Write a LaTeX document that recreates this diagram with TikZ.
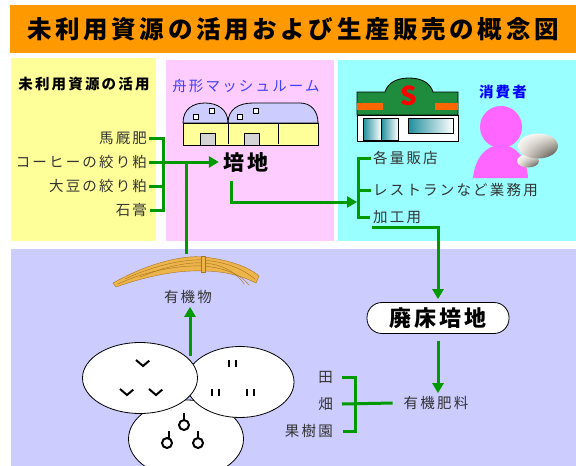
\documentclass[tikz,border=0pt]{standalone}
\usepackage{fontspec}
\setmainfont{Noto Sans CJK JP}[LetterSpace=15]
\usetikzlibrary{arrows.meta,positioning,shapes.geometric,shadings}

\definecolor{titleorange}{HTML}{FF9900}
\definecolor{panelyellow}{HTML}{FFFF99}
\definecolor{panelpink}{HTML}{FFCCFF}
\definecolor{panelcyan}{HTML}{99FFFF}
\definecolor{panelblue}{HTML}{CCCCFF}
\definecolor{flowgreen}{HTML}{009900}
\definecolor{textgray}{HTML}{333333}
\definecolor{labelblue}{HTML}{4040FF}
\definecolor{wallyellow}{HTML}{FFFF99}
\definecolor{doorgray}{HTML}{D4D4D4}
\definecolor{storegreen}{HTML}{1E8C3C}
\definecolor{storeorange}{HTML}{FF6600}
\definecolor{glassteal}{HTML}{1F8E9C}
\definecolor{personpink}{HTML}{FF66FF}
\definecolor{mushcream}{HTML}{EEE8DE}
\definecolor{mushshade}{HTML}{3C3830}
\definecolor{strawgold}{HTML}{EDB44C}
\definecolor{strawdark}{HTML}{A8741E}

\begin{document}
\begin{tikzpicture}[x=1pt,y=-1pt,>={Triangle[length=10pt,width=11pt]},shorten >=1pt,node distance=24pt,
                    flow/.style={draw=flowgreen,line width=3pt},
                    item/.style={text=textgray,font=\fontsize{14.5}{16}\selectfont,inner sep=2pt},
                    microbe/.style={ellipse,draw,fill=white,thick},
                    germ/.style={line width=2pt},
                    mushcap/.style={upper left=white,upper right=mushcream,lower left=mushcream,lower right=mushshade}]
                    \useasboundingbox (0,0) rectangle (576,466);
                    \clip (0,0) rectangle (576,466);

                    \fill[titleorange] (10,5) rectangle (576,53);
                    \fill[panelyellow] (11,58) rectangle (156,241);
                    \fill[panelpink] (166,60) rectangle (334,241);
                    \fill[panelcyan] (338,60) rectangle (576,241);
                    \fill[panelblue] (11,249) rectangle (576,466);

                    \node (title) at (293,29) {\bfseries\fontsize{24.5}{28}\selectfont 未利用資源の活用および生産販売の概念図};

                    % resources
                    \node[font=\bfseries\fontsize{14.5}{16}\selectfont] (katsuyou) at (84,84) {未利用資源の活用};
                    \node[item,text width=150pt,align=right] (bafun) at (72,138) {馬厩肥};
                    \node[item,text width=150pt,align=right] (kohi) [below of=bafun] {コーヒーの絞り粕};
                    \node[item,text width=150pt,align=right] (daizu) [below of=kohi] {大豆の絞り粕};
                    \node[item,text width=150pt,align=right] (sekkou) [below of=daizu] {石膏};

                    % mushroom houses
                    \node[font=\fontsize{14.5}{16}\selectfont,text=labelblue] (hune) at (246,86) {舟形マッシュルーム};
                    \filldraw[fill=panelblue,draw=black,thick] (228,123) .. controls (228,109) and (239,103) .. (253,103)
                        -- (300,103) .. controls (311,103) and (318,111) .. (318,123) -- cycle;
                    \filldraw[fill=panelblue,draw=black,thick] (183,123) .. controls (183,109) and (193,103) .. (205,103)
                        .. controls (217,103) and (228,109) .. (228,123) -- cycle;
                    \filldraw[fill=wallyellow,draw=black,thick] (183,123) rectangle (318,145);
                    \draw[thick] (228,123) -- (228,145);
                    \draw[thick] (278,123) -- (278,145);
                    \filldraw[fill=doorgray,draw=black,thick] (200,133) rectangle (215,145);
                    \filldraw[fill=doorgray,draw=black,thick] (244,133) rectangle (259,145);
                    \filldraw[fill=white,draw=black] (193,114) rectangle (198,119);
                    \filldraw[fill=white,draw=black] (209,108) rectangle (214,113);
                    \filldraw[fill=white,draw=black] (237,114) rectangle (242,119);
                    \filldraw[fill=white,draw=black] (253,108) rectangle (258,113);
                    \node[font=\bfseries\fontsize{21}{24}\selectfont] (baichi) at (246,162) {培地};

                    % shop and consumer
                    \filldraw[fill=storegreen,draw=black,thick] (357,115) -- (357,92) -- (385,92)
                        .. controls (388,82) and (398,78) .. (409,78) .. controls (420,78) and (430,82) .. (433,92)
                        -- (458,92) -- (458,115) -- cycle;
                    \fill[storeorange] (357,103) rectangle (383,110);
                    \fill[storeorange] (435,103) rectangle (458,110);
                    \node[text=red,font=\bfseries\fontsize{26}{26}\selectfont] (esu) at (409,96) {S};
                    \filldraw[fill=white,draw=black,thick] (357,115) rectangle (458,141);
                    \draw[thick,left color=glassteal,right color=white] (363,118) rectangle (381,140);
                    \draw[thick,left color=glassteal,right color=white] (381,118) rectangle (398,140);
                    \draw[thick,left color=glassteal,right color=white] (408,118) rectangle (453,133);
                    \node[font=\bfseries\fontsize{14.5}{16}\selectfont,text=blue] (shouhi) at (503,92) {消費者};
                    \fill[personpink] (473,178) .. controls (475,158) and (486,145) .. (501,145)
                        .. controls (516,145) and (527,158) .. (528,178) -- cycle;
                    \fill[personpink] (501,127) circle[radius=21];
                    \shade[mushcap] (528,161) ellipse[x radius=11,y radius=6.5];
                    \shade[mushcap] (538,146) ellipse[x radius=20,y radius=12.5];
                    \node[item,anchor=west] (hanbai) at (371,158) {各量販店};
                    \node[item,anchor=west] (resuto) at (371,190) {レストランなど業務用};
                    \node[item,anchor=west] (kakou) at (371,217) {加工用};

                    % soil and straw
                    \node[microbe,minimum width=115pt,minimum height=78pt] (kin3) at (186,439) {};
                    \node[microbe,minimum width=108pt,minimum height=71pt] (kin2) at (240,382) {};
                    \node[microbe,minimum width=115pt,minimum height=71pt] (kin1) at (140,378) {};
                    \draw[germ] (136,360) -- (143,366) -- (150,360);
                    \draw[germ] (120,389) -- (127,395) -- (134,389);
                    \draw[germ] (149,389) -- (156,395) -- (163,389);
                    \draw[germ] (229,360) -- (229,368);
                    \draw[germ] (236,360) -- (236,368);
                    \draw[germ] (212,389) -- (212,397);
                    \draw[germ] (219,389) -- (219,397);
                    \draw[germ] (247,389) -- (247,397);
                    \draw[germ] (254,389) -- (254,397);
                    \draw[germ] (184,425) circle[radius=5];
                    \draw[germ] (184,420) -- (184,412);
                    \draw[germ] (167,443) circle[radius=5];
                    \draw[germ] (169,438) -- (169,430);
                    \draw[germ] (198,443) circle[radius=5];
                    \draw[germ] (198,438) -- (198,430);
                    \filldraw[fill=strawgold,draw=strawdark] (113,283) .. controls (150,262) and (185,255) .. (203,257)
                        .. controls (225,259) and (248,266) .. (259,276) -- (256,283)
                        .. controls (240,275) and (222,271) .. (203,271) .. controls (180,270) and (150,275) .. (116,287) -- cycle;
                    \draw[strawdark] (118,284) .. controls (150,269) and (185,265) .. (203,266) .. controls (225,268) and (240,274) .. (250,286);
                    \draw[strawdark] (125,279) .. controls (155,265) and (185,259) .. (203,260) .. controls (225,262) and (242,268) .. (256,280);
                    \draw[strawdark] (140,277) .. controls (165,267) and (185,262) .. (203,263) .. controls (222,264) and (236,272) .. (245,285);
                    \filldraw[fill=strawgold,draw=strawdark] (201,256) rectangle (205,272);
                    \coordinate (wara) at (186,254);
                    \node[item] (yuki) at (188,297) {有機物};
                    \coordinate (tsuchi) at (190,356);

                    % spent substrate
                    \node[draw,fill=white,thick,rounded corners=15pt,minimum width=142pt,minimum height=31pt,
                          font=\bfseries\fontsize{22}{24}\selectfont] (haisho) at (438,318) {廃床培地};
                    \node[item] (hiryou) at (436,403) {有機肥料};
                    \node[item,anchor=east] (ta) at (335,377) {田};
                    \node[item,anchor=east] (hatake) at (335,404) {畑};
                    \node[item,anchor=east] (kaju) at (335,431) {果樹園};

                    \draw[flow] (bafun.east) -- ++(14,0) |- (sekkou.east);
                    \draw[flow] (daizu.east) -- ++(14,0);
                    \draw[flow,->] (kohi.east) -- (baichi.west);
                    \draw[flow] (wara) -- (wara |- kohi.east);
                    \coordinate (uri) at (358,202);
                    \draw[flow,->] ([xshift=-15pt,yshift=-6pt]baichi.south) |- (uri);
                    \draw[flow] (hanbai.west) -- ++(-13,0) |- (kakou.west);
                    \draw[flow] (resuto.west) -- ++(-13,0);
                    \draw[flow,->,shorten >=3pt] ([xshift=1pt,yshift=-2pt]kakou.south west) -| (haisho.north);
                    \draw[flow,->,shorten <=7pt] (haisho.south) -- (haisho.south |- hiryou.north);
                    \draw[flow] ([xshift=7pt]ta.east) -- ++(13,0) |- ([xshift=7pt]kaju.east);
                    \draw[flow] ([xshift=7pt]hatake.east) -- ([xshift=-8pt]hiryou.west);
                    \draw[flow,->] (tsuchi) -- (tsuchi |- yuki.south);

                \end{tikzpicture}
\end{document}
